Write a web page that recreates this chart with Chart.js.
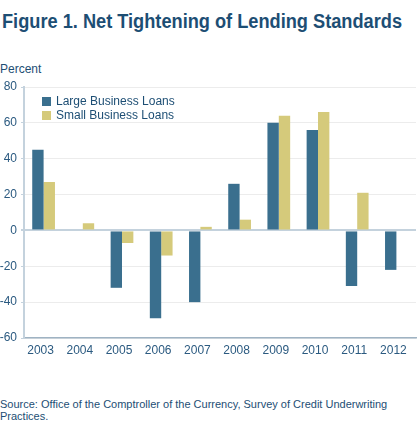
<!DOCTYPE html>
<html>
<head>
<meta charset="utf-8">
<script src="https://cdn.jsdelivr.net/npm/chart.js@4"></script>
<style>
html,body{margin:0;padding:0;background:#fff;width:420px;height:422px;overflow:hidden;font-family:"Liberation Sans",Arial,sans-serif;}
#title{position:absolute;left:2px;top:10px;font-weight:bold;font-size:20px;color:#1d4e74;white-space:nowrap;transform-origin:0 0;}
#unit{position:absolute;left:0px;top:62px;font-size:12px;color:#1d4e74;}
#src{position:absolute;left:0px;top:398px;font-size:11px;line-height:12px;color:#1d4e74;width:400px;}
#chartwrap{position:absolute;left:0;top:80px;width:420px;height:290px;}
#legend{position:absolute;left:42px;top:95px;font-size:12px;color:#1d4e74;}
#legend div{height:13.5px;line-height:13.5px;white-space:nowrap;}
#legend span.sw{display:inline-block;width:9px;height:9px;margin-right:5px;vertical-align:-1px;}
</style>
</head>
<body>
<div id="title"><span id="tt">Figure 1. Net Tightening of Lending Standards</span></div>
<div id="unit">Percent</div>
<div id="chartwrap"><canvas id="c" width="420" height="290" style="width:420px;height:290px"></canvas></div>
<div id="legend"></div>
<div id="src">Source: Office of the Comptroller of the Currency, Survey of Credit Underwriting Practices.</div>
<script>
const years = ["2003","2004","2005","2006","2007","2008","2009","2010","2011","2012"];
const seriesNames = ["Large Business Loans","Small Business Loans"];
const largeLoans = [45, 0, -32, -49, -40, 26, 60, 56, -31, -22];
const smallLoans = [27, 4, -7, -14, 2, 6, 64, 66, 21, 0];
const seriesColors = ["#3a6f8e","#d5ca7b"];
const yMin = -60, yMax = 80, yStep = 20;

// fit title width to ~400px
(function(){
  const t = document.getElementById('tt');
  const w = t.getBoundingClientRect().width;
  if (w > 0) document.getElementById('title').style.transform = 'scaleX(' + (400 / w) + ')';
})();

const legend = document.getElementById('legend');
seriesNames.forEach((n,i)=>{
  const d = document.createElement('div');
  d.innerHTML = '<span class="sw" style="background:'+seriesColors[i]+'"></span>' + n;
  legend.appendChild(d);
});

new Chart(document.getElementById('c'), {
  type: 'bar',
  data: {
    labels: years,
    datasets: [
      {label: seriesNames[0], data: largeLoans, backgroundColor: seriesColors[0], borderWidth: 0, categoryPercentage: 0.58, barPercentage: 1.0},
      {label: seriesNames[1], data: smallLoans, backgroundColor: seriesColors[1], borderWidth: 0, categoryPercentage: 0.58, barPercentage: 1.0}
    ]
  },
  options: {
    responsive: false,
    animation: false,
    layout: {padding: {top: 7, right: 4, left: 0, bottom: 0}},
    plugins: {legend: {display: false}, tooltip: {enabled: false}, title: {display: false}},
    scales: {
      x: {
        grid: {display: false, drawTicks: false},
        border: {display: true, color: '#9fb3c3', width: 1.5},
        ticks: {color: '#2b5a80', font: {family: '"Liberation Sans", Arial, sans-serif', size: 12}, padding: 5, labelOffset: -3, maxRotation: 0},
        afterFit: (s) => { s.height = 32; s.paddingLeft = 0; s.paddingRight = 0; }
      },
      y: {
        min: yMin, max: yMax,
        ticks: {stepSize: yStep, color: '#2b5a80', font: {family: '"Liberation Sans", Arial, sans-serif', size: 12}, padding: 4},
        grid: {
          color: (c) => (c.tick && c.tick.value === 0) ? '#c4d2dd' : '#ececec',
          lineWidth: (c) => (c.tick && c.tick.value === 0) ? 2 : 1,
          tickLength: 3,
          tickColor: '#c4d2dd'
        },
        border: {display: true, color: '#c4d2dd', width: 2},
        afterFit: (s) => { s.width = 24; s.paddingTop = 0; s.paddingBottom = 0; }
      }
    }
  }
});
</script>
</body>
</html>
